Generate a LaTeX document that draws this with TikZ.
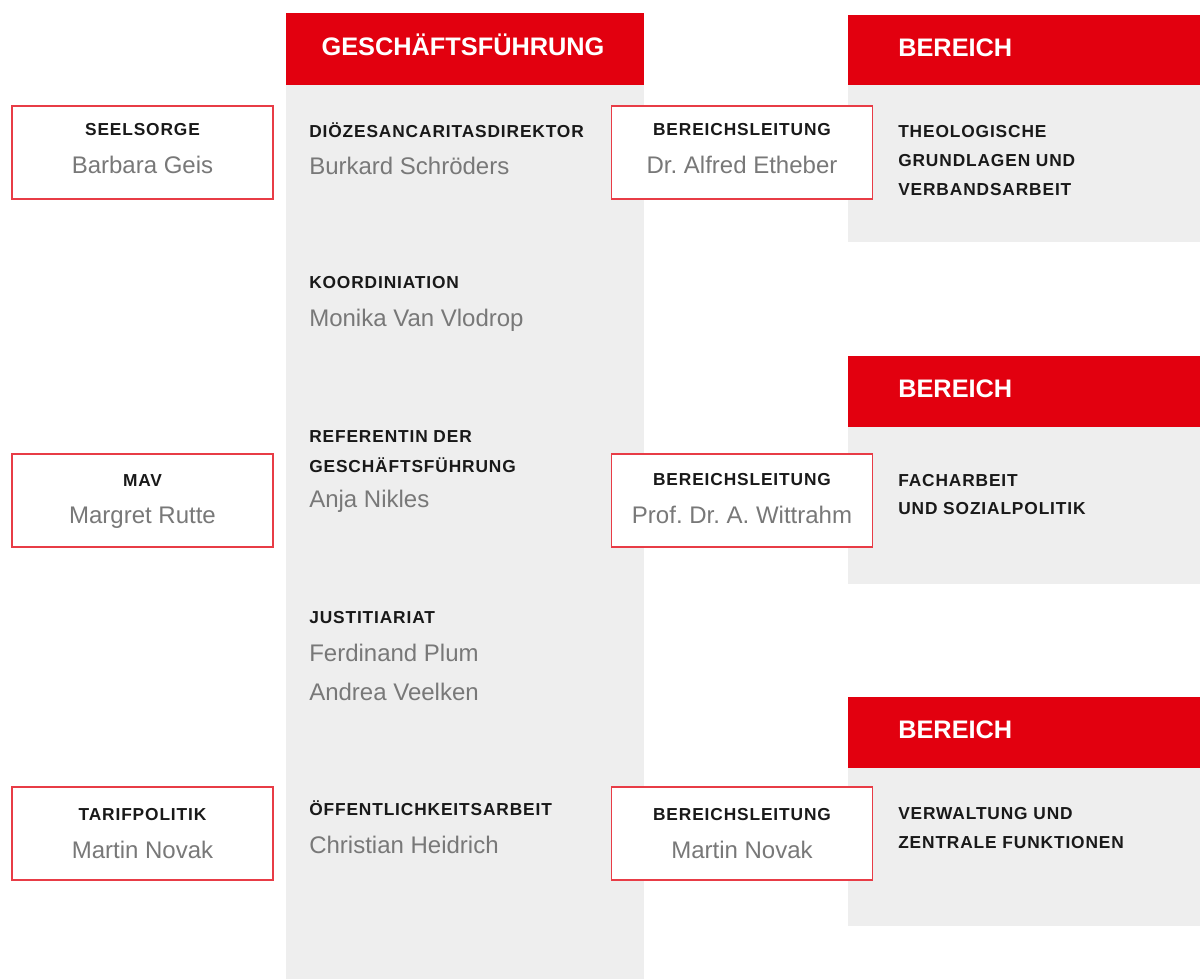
\documentclass[tikz,border=0pt]{standalone}
\usepackage{fontspec}
\setmainfont{Liberation Sans}
\newfontfamily\labfont[LetterSpace=5]{Liberation Sans}
\definecolor{cred}{RGB}{226,0,15}
\definecolor{cbord}{RGB}{232,60,70}
\definecolor{cgray}{RGB}{238,238,238}
\definecolor{cname}{RGB}{120,120,120}
\definecolor{clab}{RGB}{25,25,25}
\tikzset{
  hdr/.style={fill=cred, draw=none},
  bg/.style={fill=cgray, draw=none},
  pbox/.style={draw=cbord, line width=1.2pt, fill=white, inner sep=0pt, minimum width=195.75pt, minimum height=69.75pt},
  lab/.style={inner sep=0pt, anchor=base, text=clab, font=\labfont\fontsize{13}{15}\selectfont\bfseries},
  labw/.style={lab, anchor=base west},
  nm/.style={inner sep=0pt, anchor=base, text=cname, font=\fontsize{18}{20}\selectfont},
  nmw/.style={nm, anchor=base west},
  htxt/.style={inner sep=0pt, anchor=base, text=white, font=\fontsize{19}{21}\selectfont\bfseries},
}
\begin{document}
\frenchspacing
\begin{tikzpicture}[x=0.75pt,y=-0.75pt]
\useasboundingbox (0,0) rectangle (1200,979);
% Geschaeftsfuehrung column
\fill[bg] (286,85) rectangle (644,979);
\fill[hdr] (286,13) rectangle (644,85);
\node[htxt] (gfh) at (463,55) {GESCHÄFTSFÜHRUNG};
% Bereich columns
\fill[bg] (848,85) rectangle (1200,242);
\fill[hdr] (848,15) rectangle (1200,85);
\node[htxt, anchor=base west] (b1h) at (898,56) {BEREICH};
\fill[bg] (848,427) rectangle (1200,584);
\fill[hdr] (848,356) rectangle (1200,427);
\node[htxt, anchor=base west] (b2h) at (898,397) {BEREICH};
\fill[bg] (848,768) rectangle (1200,926);
\fill[hdr] (848,697) rectangle (1200,768);
\node[htxt, anchor=base west] (b3h) at (898,738) {BEREICH};
% Bereich texts
\node[labw] (b1a) at (898,137.5) {THEOLOGISCHE};
\node[labw] (b1b) at (898,166.5) {GRUNDLAGEN UND};
\node[labw] (b1c) at (898,195.5) {VERBANDSARBEIT};
\node[labw] (b2a) at (898,486.5) {FACHARBEIT};
\node[labw] (b2b) at (898,514.5) {UND SOZIALPOLITIK};
\node[labw] (b3a) at (898,819.5) {VERWALTUNG UND};
\node[labw] (b3b) at (898,848.5) {ZENTRALE FUNKTIONEN};
% Column texts
\node[labw] (g1a) at (309,137.5) {DIÖZESANCARITASDIREKTOR};
\node[nmw]  (g1b) at (309,174.5) {Burkard Schröders};
\node[labw] (g2a) at (309,288.5) {KOORDINIATION};
\node[nmw]  (g2b) at (309,326.5) {Monika Van Vlodrop};
\node[labw] (g3a) at (309,442.5) {REFERENTIN DER};
\node[labw] (g3b) at (309,472.5) {GESCHÄFTSFÜHRUNG};
\node[nmw]  (g3c) at (309,507.5) {Anja Nikles};
\node[labw] (g4a) at (309,623.5) {JUSTITIARIAT};
\node[nmw]  (g4b) at (309,661.5) {Ferdinand Plum};
\node[nmw]  (g4c) at (309,700.5) {Andrea Veelken};
\node[labw] (g5a) at (309,815.5) {ÖFFENTLICHKEITSARBEIT};
\node[nmw]  (g5b) at (309,853.5) {Christian Heidrich};
% Left boxes
\node[pbox] (l1) at (142.5,152.5) {};
\node[lab] (l1a) at (142.5,135.5) {SEELSORGE};
\node[nm]  (l1b) at (142.5,173.5) {Barbara Geis};
\node[pbox] (l2) at (142.5,500.5) {};
\node[lab] (l2a) at (142.5,486.5) {MAV};
\node[nm]  (l2b) at (142.5,523.5) {Margret Rutte};
\node[pbox] (l3) at (142.5,833.5) {};
\node[lab] (l3a) at (142.5,820.5) {TARIFPOLITIK};
\node[nm]  (l3b) at (142.5,858.5) {Martin Novak};
% Right boxes
\node[pbox] (r1) at (742,152.5) {};
\node[lab] (r1a) at (742,135.5) {BEREICHSLEITUNG};
\node[nm]  (r1b) at (742,173.5) {Dr. Alfred Etheber};
\node[pbox] (r2) at (742,500.5) {};
\node[lab] (r2a) at (742,485.5) {BEREICHSLEITUNG};
\node[nm]  (r2b) at (742,523.5) {Prof. Dr. A. Wittrahm};
\node[pbox] (r3) at (742,833.5) {};
\node[lab] (r3a) at (742,820.5) {BEREICHSLEITUNG};
\node[nm]  (r3b) at (742,858.5) {Martin Novak};
\end{tikzpicture}
\end{document}
